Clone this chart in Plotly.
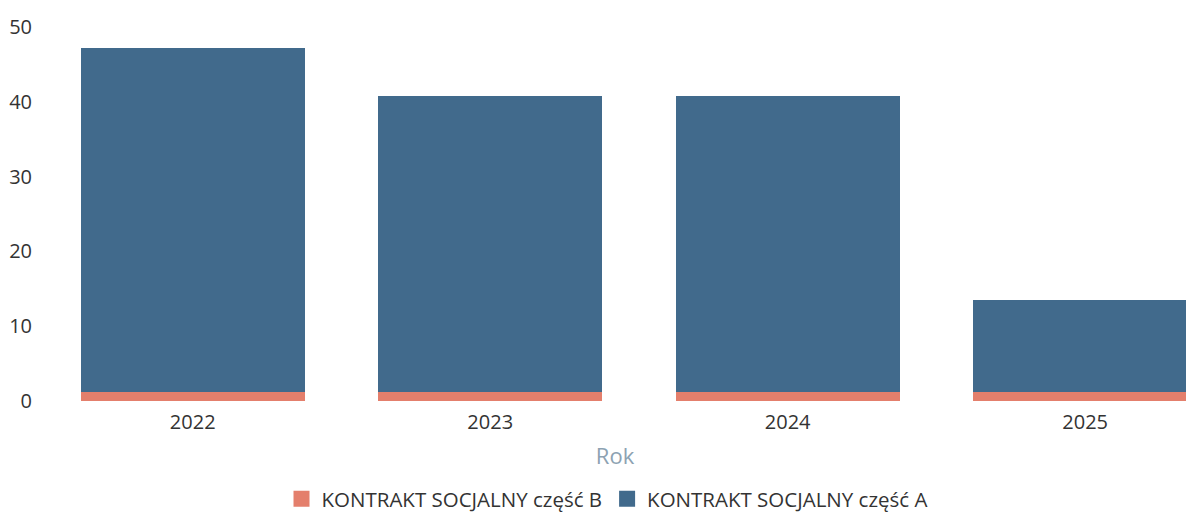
import plotly.graph_objects as go

years = ["2022", "2023", "2024", "2025"]
czesc_b = [1.2, 1.2, 1.2, 1.2]
czesc_a = [46.0, 39.6, 39.6, 12.3]
names = ["KONTRAKT SOCJALNY część B", "KONTRAKT SOCJALNY część A"]
colors = ["#e47f6c", "#416a8c"]

fig = go.Figure()
for vals, name, col in zip([czesc_b, czesc_a], names, colors):
    fig.add_trace(go.Bar(x=years, y=vals, name=name, showlegend=False,
                         marker=dict(color=col, line=dict(width=0))))
# legend entries with larger square swatches
for name, col in zip(names, colors):
    fig.add_trace(go.Scatter(x=[None], y=[None], mode="markers", name=name,
                             marker=dict(symbol="square", size=16, color=col)))

fig.update_layout(
    barmode="stack",
    bargap=0.247,
    width=1186, height=513,
    margin=dict(l=44, r=0, t=27, b=112, autoexpand=False),
    paper_bgcolor="white", plot_bgcolor="white",
    font=dict(family="Open Sans", size=20, color="#333333"),
    showlegend=True,
    legend=dict(orientation="h", x=0.493, xanchor="center", y=-0.262, yanchor="middle",
                traceorder="normal", font=dict(size=20.5, color="#333333"),
                itemwidth=30),
    xaxis=dict(range=[-0.5, 3.339], showgrid=False, zeroline=False, showline=False,
               ticks="", ticklabelstandoff=7,
               title=dict(text="Rok", font=dict(color="#8da2b2", size=22), standoff=14)),
    yaxis=dict(range=[0, 50], dtick=10, showgrid=False, zeroline=False, showline=False,
               ticks="", ticklabelstandoff=11),
)
fig.write_html("out.html", config={"displayModeBar": False},
               post_script="document.body.style.margin='0';")
